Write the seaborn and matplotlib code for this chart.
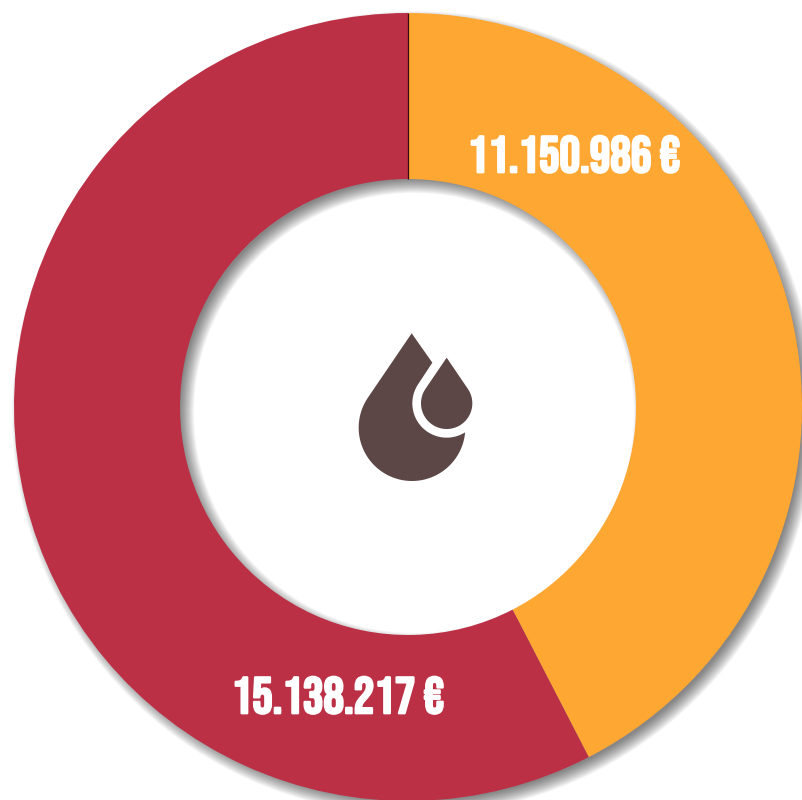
import numpy as np
import matplotlib
matplotlib.use("Agg")
import matplotlib.pyplot as plt
from matplotlib.path import Path
from matplotlib.patches import PathPatch
import matplotlib.patheffects as pe
import seaborn as sns

segment_names = ["Orange", "Red"]
segment_values = [11150986, 15138217]
segment_labels = ["11.150.986 €", "15.138.217 €"]
segment_colors = ["#FFA733", "#BC3046"]

sns.set_theme(style="white")
plt.rcParams["font.family"] = ["Bebas Neue", "Anton", "DejaVu Sans"]
palette = sns.color_palette(segment_colors)

W, H = 802, 800
fig = plt.figure(figsize=(W / 100, H / 100), dpi=100, facecolor="white")
ax = fig.add_axes([0, 0, 1, 1])

CX, CY, R, HOLE = 408, H - 407, 394, 228
RING = R - HOLE

# soft drop shadow: stacked translucent rings, slightly offset
for spread in np.linspace(8, -6, 15):
    ax.pie(segment_values, radius=R + spread, center=(CX + 6, CY - 6),
           startangle=90, counterclock=False, colors=["#000000"] * 2,
           wedgeprops=dict(width=RING + 2 * spread, alpha=0.04, linewidth=0))

ax.pie(segment_values, radius=R, center=(CX, CY), startangle=90, counterclock=False,
       colors=palette, wedgeprops=dict(width=RING, linewidth=0))
ax.plot([CX - 0.3, CX - 0.3], [CY + HOLE, CY + R], color="#3a0a12", lw=0.9, solid_capstyle="butt")

ax.set_xlim(0, W)
ax.set_ylim(0, H)
ax.set_aspect("equal")
ax.axis("off")

# value labels
label_pos = [(574, H - 154), (338, H - 695)]
for (x, y), s in zip(label_pos, segment_labels):
    ax.text(x, y, s, color="white", fontsize=37, ha="center", va="center_baseline",
            path_effects=[pe.withStroke(linewidth=1.6, foreground="white")])


def z(p):
    p = np.asarray(p, float)
    return np.column_stack([340 + p[..., 0] / 3, H - (320 + p[..., 1] / 3)])


def arc(c, r, a0, a1, n=60):
    t = np.radians(np.linspace(a0, a1, n))
    return np.column_stack([c[0] + r * np.cos(t), c[1] + r * np.sin(t)])


def tangent_angles(c, r, tip):
    dx, dy = tip[0] - c[0], tip[1] - c[1]
    d, base = np.hypot(dx, dy), np.degrees(np.arctan2(dy, dx))
    off = np.degrees(np.arccos(r / d))
    return base + off, base - off


def polygon(pts):
    v = np.vstack([pts, pts[:1]])
    codes = [Path.MOVETO] + [Path.LINETO] * (len(pts) - 1) + [Path.CLOSEPOLY]
    return Path(v, codes)


ICON = "#5C4646"
# small drop (screen-style coordinates, y down)
sc, sr, stip = (320, 250), 77, (320, 113)
a_right, a_left = tangent_angles(sc, sr, stip)
small = np.vstack([[stip], arc(sc, sr, a_right, a_left + 360 if a_left < a_right else a_left)])
ax.add_patch(PathPatch(polygon(z(small)), fc=ICON, ec="none"))

# large drop with the notch around the small drop
lc, lr, ltip = (216, 323), 160, (215, 40)
notch_top = (277, 128)
l_a, l_b = tangent_angles(lc, lr, ltip)
end_ang = np.degrees(np.arctan2(338 - lc[1], 375 - lc[0]))
start = l_a if np.cos(np.radians(l_a)) < 0 else l_b
outer = arc(lc, lr, start % 360, end_ang, 80)
rr = 103
n_a, n_b = tangent_angles(sc, rr, notch_top)
notch_end = n_b if np.cos(np.radians(n_b)) < 0 else n_a
ring_start = np.degrees(np.arctan2(338 - sc[1], 375 - sc[0]))
ne = notch_end % 360
notch = arc(sc, rr, ring_start, ne, 60)
large = np.vstack([[ltip], outer, notch, [notch_top]])
ax.add_patch(PathPatch(polygon(z(large)), fc=ICON, ec="none"))

fig.savefig("out.png", dpi=100, facecolor="white")
